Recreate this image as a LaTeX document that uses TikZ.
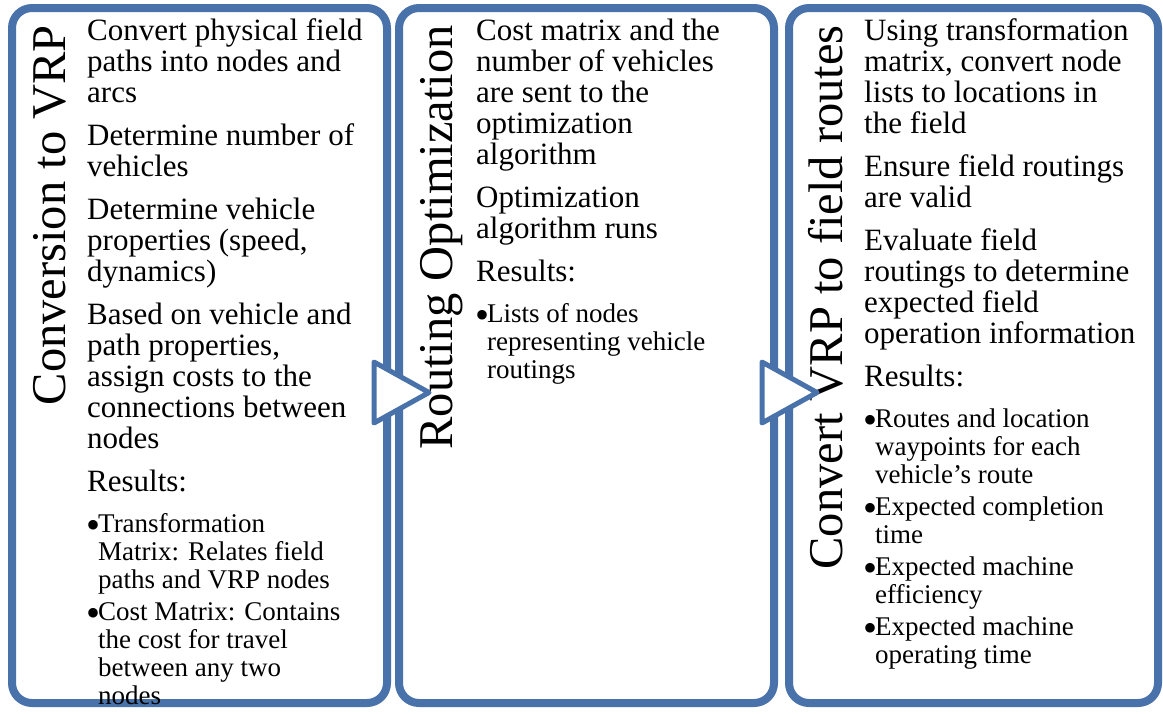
\documentclass[tikz,border=0pt]{standalone}
\usepackage{fontspec}
\setmainfont{Liberation Serif}
\usetikzlibrary{shadows}
\definecolor{pblue}{RGB}{73,114,170}
\newcommand{\plines}[1]{\begin{tabular}[t]{@{}l@{}}#1\end{tabular}}
\newcommand{\bitem}[1]{\makebox[11pt][l]{\hspace*{-1pt}\raisebox{-6pt}{\fontsize{40}{40}\selectfont •}}\plines{#1}}
\tikzset{
  panel/.style={draw=pblue, line width=8pt, rounded corners=20pt, fill=white, inner sep=0pt,
    drop shadow={shadow xshift=3pt, shadow yshift=-3pt, opacity=0.3, fill=black!60}},
  title/.style={rotate=90, anchor=base east, inner sep=0pt, font=\fontsize{48.5}{49}\selectfont},
  body/.style={anchor=base west, inner sep=0pt, font=\fontsize{31}{31}\selectfont},
  bul/.style={anchor=base west, inner sep=0pt, font=\fontsize{27}{28}\selectfont},
  chev/.style={draw=pblue, line width=5pt, fill=white, line join=round}
}
\begin{document}
\begin{tikzpicture}[x=1pt, y=-1pt]
\useasboundingbox (0,0) rectangle (1163,713);
% panels
\node[panel, minimum width=375pt, minimum height=695pt] (p1) at (199.5,355.5) {};
\node[panel, minimum width=375pt, minimum height=695pt] (p2) at (586.5,355.5) {};
\node[panel, minimum width=369pt, minimum height=695pt] (p3) at (973.5,355.5) {};
% titles
\node[title] (t1) at (65,25) {Conversion to VRP};
\node[title] (t2) at (452,25) {Routing Optimization};
\node[title] (t3) at (842,25) {Convert VRP to field routes};
% left panel
\node[body] (a1) at (87,40) {\plines{Convert physical field\\paths into nodes and\\arcs}};
\node[body] (a2) at (87,145) {\plines{Determine number of\\vehicles}};
\node[body] (a3) at (87,219) {\plines{Determine vehicle\\properties (speed,\\dynamics)}};
\node[body] (a4) at (87,324) {\plines{Based on vehicle and\\path properties,\\assign costs to the\\connections between\\nodes}};
\node[body] (a5) at (87,491) {Results:};
\node[bul] (a6) at (87,532) {\bitem{Transformation\\Matrix: Relates field\\paths and VRP nodes}};
\node[bul] (a7) at (87,620) {\bitem{Cost Matrix: Contains\\the cost for travel\\between any two\\nodes}};
% middle panel
\node[body] (b1) at (476,40) {\plines{Cost matrix and the\\number of vehicles\\are sent to the\\optimization\\algorithm}};
\node[body] (b2) at (476,207) {\plines{Optimization\\algorithm runs}};
\node[body] (b3) at (476,281) {Results:};
\node[bul] (b4) at (476,322) {\bitem{Lists of nodes\\representing vehicle\\routings}};
% right panel
\node[body] (c1) at (864,40) {\plines{Using transformation\\matrix, convert node\\lists to locations in\\the field}};
\node[body] (c2) at (864,176) {\plines{Ensure field routings\\are valid}};
\node[body] (c3) at (864,250) {\plines{Evaluate field\\routings to determine\\expected field\\operation information}};
\node[body] (c4) at (864,386) {Results:};
\node[bul] (c5) at (864,427) {\bitem{Routes and location\\waypoints for each\\vehicle’s route}};
\node[bul] (c6) at (864,515) {\bitem{Expected completion\\time}};
\node[bul] (c7) at (864,575) {\bitem{Expected machine\\efficiency}};
\node[bul] (c8) at (864,635) {\bitem{Expected machine\\operating time}};
% arrows between panels
\draw[chev] (374,362) -- (374,423) -- (429,392.5) -- cycle;
\draw[chev] (762,362) -- (762,423) -- (817,392.5) -- cycle;
\end{tikzpicture}
\end{document}
